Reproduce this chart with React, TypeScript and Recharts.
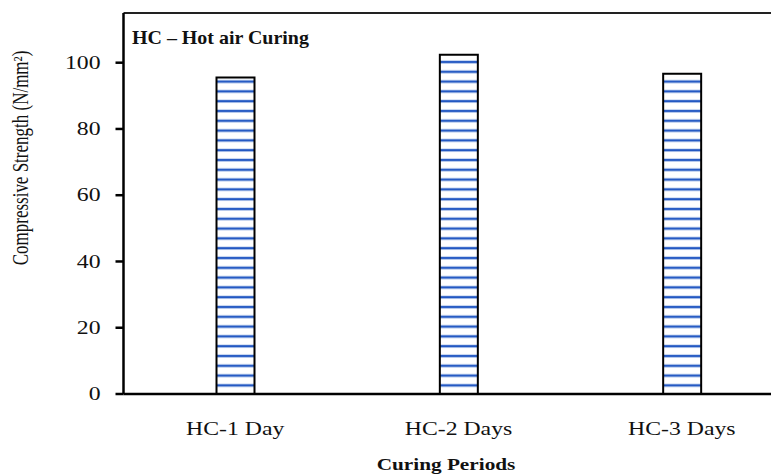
import React from "react";
import { BarChart, Bar, XAxis, YAxis, ReferenceLine } from "recharts";

const categories = ["HC-1 Day", "HC-2 Days", "HC-3 Days"];
const strengths = [95.5, 102.4, 96.7];
const yTicks = [0, 20, 40, 60, 80, 100];

const data = categories.map((c, i) => ({ name: c, value: strengths[i] }));

const FONT = "'Liberation Serif', 'Times New Roman', serif";
const INK = "#111";
const SX = 1.25;

const YTick = (props: any) => {
  const { x, y, payload } = props;
  return (
    <text
      transform={`translate(${x},${y}) scale(${SX},1)`}
      textAnchor="end"
      dominantBaseline="central"
      fontFamily={FONT}
      fontSize={19}
      fill={INK}
    >
      {payload.value}
    </text>
  );
};

const XTick = (props: any) => {
  const { x, y, payload } = props;
  return (
    <text
      transform={`translate(${x},${y + 41}) scale(${SX},1)`}
      textAnchor="middle"
      fontFamily={FONT}
      fontSize={19}
      fill={INK}
    >
      {payload.value}
    </text>
  );
};

export default function App() {
  return (
    <div style={{ width: 771, height: 467, overflow: "hidden", position: "relative" }}>
      <BarChart
        width={800}
        height={467}
        data={data}
        margin={{ top: 5, right: 14.5, left: 0, bottom: 0 }}
        barCategoryGap={0}
      >
        <defs>
          <pattern id="stripes" patternUnits="userSpaceOnUse" width={10} height={9.8}>
            <rect x={0} y={0} width={10} height={9.8} fill="#fff" />
            <rect x={0} y={3.5} width={10} height={3} fill="#9db7e6" />
            <rect x={0} y={4} width={10} height={2} fill="#2257c2" />
          </pattern>
        </defs>
        <XAxis
          dataKey="name"
          height={81}
          tickLine={false}
          tickSize={0}
          tickMargin={0}
          axisLine={{ stroke: "#000", strokeWidth: 2.5 }}
          tick={<XTick />}
          interval={0}
        />
        <YAxis
          width={115.5}
          domain={[0, 115]}
          ticks={yTicks}
          allowDataOverflow
          tickSize={8}
          tickMargin={15}
          tickLine={{ stroke: "#000", strokeWidth: 2.5 }}
          axisLine={{ stroke: "#000", strokeWidth: 2.5 }}
          tick={<YTick />}
        />
        <ReferenceLine y={115} stroke="#222" strokeWidth={2} ifOverflow="visible" />
        <Bar
          dataKey="value"
          barSize={38}
          fill="url(#stripes)"
          stroke="#000"
          strokeWidth={2}
          isAnimationActive={false}
        />
        <text
          transform={`translate(124,36) scale(1.05,1)`}
          fontFamily={FONT}
          fontSize={19}
          fontWeight="bold"
          fill={INK}
        >
          HC – Hot air Curing
        </text>
        <text
          transform={`translate(438,462) scale(${SX},1)`}
          textAnchor="middle"
          fontFamily={FONT}
          fontSize={17}
          fontWeight="bold"
          fill={INK}
        >
          Curing Periods
        </text>
        <text
          transform={`translate(12,150) scale(1.3,1) rotate(-90)`}
          textAnchor="middle"
          dominantBaseline="central"
          fontFamily={FONT}
          fontSize={17}
          fill={INK}
        >
          Compressive Strength (N/mm²)
        </text>
      </BarChart>
    </div>
  );
}
